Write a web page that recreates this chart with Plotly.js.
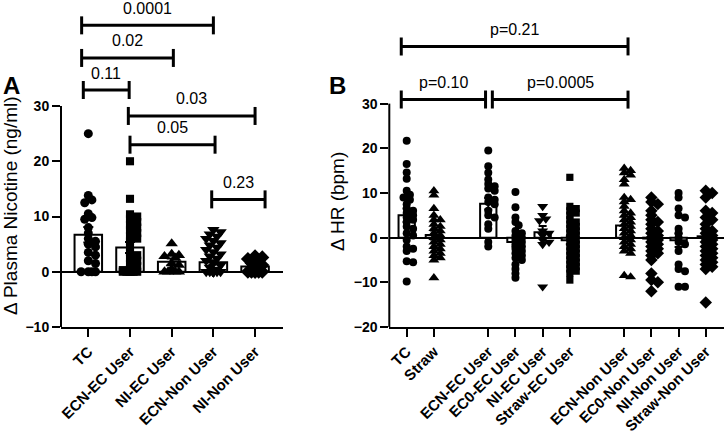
<!DOCTYPE html>
<html><head><meta charset="utf-8">
<script src="https://cdn.plot.ly/plotly-3.0.1.min.js"></script>
<style>html,body{margin:0;padding:0;background:#fff}#chart{width:725px;height:443px}</style>
</head><body><div id="chart"></div>
<script>
// ---------- Panel A data ----------
const catsA = ['TC','ECN-EC User','NI-EC User','ECN-Non User','NI-Non User'];
const nicTC     = [25, 13.8, 13, 12.5, 10.5, 9.8, 9.5, 8, 7, 6, 5.5, 5, 4.5, 3.5, 3, 2, 1.5, 0, 0, 0, 0];
const nicECNEC  = [20, 13.2, 10.4, 10, 9.5, 9, 8.5, 8, 7.5, 7, 6.5, 6, 5.5, 4.5, 3.5, 3, 2.5, 2, 1.5, 1, 0.5, 0.3, 0, 0, 0, 0, 0, 0, 0, 0, 0, 0];
const nicNIEC   = [5.1, 3.2, 3.0, 2.8, 2.5, 1.5, 1.2, 0.5, 0, 0, 0, 0];
const nicECNNon = [7.6, 7.2, 6.8, 6.4, 6, 5.6, 5.2, 4.8, 4.4, 4, 3.6, 3.2, 2.8, 2.4, 2, 1.6, 1.2, 0.8, 0.4, 0, 0, 0, 0, 0, 0, 0, 0, 0, 0, 0, 0, 0, 0, 0, 0, 0, 0, 0, 0, 0];
const nicNINon  = [2.8, 2.6, 2.3, 2.0, 1.6, 1.2, 0.6, 0, 0, 0, 0, 0, 0];
const meanA = [6.7, 4.4, 1.8, 1.7, 0.95];
const semA  = [1.4, 1.0, 0.6, 0.4, 0.3];
const sigA_p    = ['0.0001','0.02','0.11','0.03','0.05','0.23'];
const sigA_from = [-0.16, -0.16, -0.12, 0.96, 1.0, 2.96];
const sigA_to   = [3.0, 2.04, 0.98, 4.0, 3.04, 4.24];
const sigA_y    = [44.6, 38.7, 32.9, 28.2, 23.0, 13.1];

// ---------- Panel B data ----------
const groupsB = [['TC','Straw'],['ECN-EC User','EC0-EC User','NI-EC User','Straw-EC User'],['ECN-Non User','EC0-Non User','NI-Non User','Straw-Non User']];
const hrTC       = [21.7, 16.5, 14.6, 13.2, 10.5, 9.6, 9, 8.5, 7.5, 6.5, 6, 5.5, 5, 4.5, 4, 3.5, 2.5, 2, 1, 0.5, -0.5, -2, -2.5, -3, -5.3, -5.5, -9.8];
const hrStraw    = [10.5, 9.5, 6.5, 5, 4, 4, 3, 2.5, 2, 1.5, 1, 0.5, 0, -0.5, -1, -1.5, -2, -2.5, -3, -3.5, -4, -4.5, -5, -9];
const hrECNEC    = [19.5, 16, 14.5, 13, 12, 11.5, 11, 10.5, 9, 8.5, 8, 7.5, 6, 5, 4.5, 3, 2, -1, -2];
const hrEC0EC    = [10.2, 6.8, 4.5, 3.5, 2.8, 1.5, 1, 0.5, 0, -0.5, -1, -1.5, -2, -2.5, -3, -3.5, -4, -4.5, -5, -6, -7, -8, -9];
const hrNIEC     = [7, 5, 4.2, 3.8, 1.5, 1, 0.5, -0.5, -1, -1.5, -11];
const hrStrawEC  = [13.5, 7, 6.5, 6, 5.5, 5, 4, 3.5, 3, 2.5, 2, 1.5, 1, 0.5, 0, -0.5, -1, -1.5, -2, -2.5, -3, -3.5, -4, -4.5, -5, -5.5, -6, -6.5, -7, -7.5, -8, -9.5];
const hrECNNon   = [15.5, 15, 14.5, 14, 13, 12, 9, 8.5, 8, 7, 6, 5.5, 5, 4.5, 4, 3.5, 3, 2.5, 2, 1.5, 1, 0.5, 0, -0.5, -1, -1.5, -2, -2.5, -3, -3.5, -8.8, -8.5];
const hrEC0Non   = [9, 8, 7.5, 6, 5, 4, 3.5, 3, 2, 1.5, 1, 0.5, 0, -0.5, -1, -1.5, -2, -2.5, -3, -3.5, -4, -5, -8, -9.5, -10, -12];
const hrNINon    = [10, 9, 6.5, 5, 4.5, 2, 1, 0, -1, -1.5, -3, -6, -7, -7.5, -11, -11];
const hrStrawNon = [10.5, 10, 9, 6, 5.5, 4.5, 4, 3, 2, 1.5, 1, 0.5, 0, -0.5, -1, -1.5, -2, -2.5, -3, -3.5, -4, -4.5, -5, -5.5, -6, -6.5, -7, -14.5];
const meanB = [5.0, 0.6, 7.6, -1.0, 1.2, -0.6, 2.7, -0.2, -0.6, 0.3];
const semB  = [1.5, 1.0, 1.3, 1.0, 1.4, 0.9, 1.0, 0.9, 1.5, 0.9];
const sigB_p    = ['p=0.21','p=0.10','p=0.0005'];
const sigB_from = [-0.2, -0.2, 3.15];
const sigB_to   = [8.14, 2.9, 8.14];
const sigB_y    = [42.8, 30.9, 30.9];

// ---------- styling / layout ----------
const W = 725, H = 443;
const FONT = 'Liberation Sans, Arial, sans-serif';
const domA = [61, 283], domB = [389.3, 724];
const rangeXA = [-0.655, 4.67], rangeYA = [-10, 49.19];
const rangeXB = [-0.64, 11.67], rangeYB = [-20, 53.19];
const plotBottomPx = 327;

const dataA = [nicTC, nicECNEC, nicNIEC, nicECNNon, nicNINon];
const symA = ['circle','square','triangle-up','triangle-down','diamond'];
const dataB = [hrTC, hrStraw, hrECNEC, hrEC0EC, hrNIEC, hrStrawEC, hrECNNon, hrEC0Non, hrNINon, hrStrawNon];
const symB = ['circle','triangle-up','circle','circle','triangle-down','square','triangle-up','diamond','circle','diamond'];
const symScale = {'circle':1, 'square':0.9, 'triangle-up':1.2, 'triangle-down':1.2, 'diamond':1.2};

const catsB = [], posB = [];
let p = 0;
groupsB.forEach(g => { g.forEach(n => { catsB.push(n); posB.push(p); p++; }); p++; });
const posA = catsA.map((_, i) => i);

// simple beeswarm: returns x offsets in category units
function swarm(vals, pxY, pxCat, size, maxPx, overlap) {
  const placed = [];
  const idx = vals.map((v, i) => i).sort((a, b) => vals[b] - vals[a]);
  const out = new Array(vals.length);
  const dmin = size * overlap, step = size * 0.4;
  idx.forEach(i => {
    const y = vals[i] * pxY;
    let best = 0, bestScore = -1;
    for (let k = 0; k < 40; k++) {
      const c = (k === 0) ? 0 : (k % 2 ? 1 : -1) * Math.ceil(k / 2) * step;
      if (Math.abs(c) > maxPx) break;
      let md = Infinity;
      placed.forEach(q => { const d = Math.hypot(q[0] - c, q[1] - y); if (d < md) md = d; });
      if (md >= dmin) { best = c; break; }
      if (md > bestScore) { bestScore = md; best = c; }
    }
    placed.push([best, y]);
    out[i] = best / pxCat;
  });
  return out;
}

const pxYA = plotBottomPx / (rangeYA[1] - rangeYA[0]);
const pxCatA = (domA[1] - domA[0]) / (rangeXA[1] - rangeXA[0]);
const pxYB = plotBottomPx / (rangeYB[1] - rangeYB[0]);
const pxCatB = (domB[1] - domB[0]) / (rangeXB[1] - rangeXB[0]);

const traces = [];
traces.push({type:'bar', x: posA, y: meanA, width: 0.66, xaxis:'x', yaxis:'y',
  marker:{color:'#fff', line:{color:'#000', width:2}},
  error_y:{type:'data', array: semA, visible:true, color:'#000', thickness:2, width:5},
  hoverinfo:'skip', showlegend:false});
traces.push({type:'bar', x: posB, y: meanB, width: 0.6, xaxis:'x2', yaxis:'y2',
  marker:{color:'#fff', line:{color:'#000', width:2}},
  error_y:{type:'data', array: semB, visible:true, color:'#000', thickness:2, width:4},
  hoverinfo:'skip', showlegend:false});

dataA.forEach((vals, i) => {
  const off = swarm(vals, pxYA, pxCatA, 9, 10, 0.55);
  traces.push({type:'scatter', mode:'markers', xaxis:'x', yaxis:'y',
    x: vals.map((v, j) => posA[i] + off[j]), y: vals,
    marker:{symbol: symA[i], size: 9 * symScale[symA[i]], color:'#000'}, showlegend:false, cliponaxis:false});
});
dataB.forEach((vals, i) => {
  const off = swarm(vals, pxYB, pxCatB, 8, 7, 0.55);
  traces.push({type:'scatter', mode:'markers', xaxis:'x2', yaxis:'y2',
    x: vals.map((v, j) => posB[i] + off[j]), y: vals,
    marker:{symbol: symB[i], size: 8 * symScale[symB[i]], color:'#000'}, showlegend:false, cliponaxis:false});
});

const shapes = [], annotations = [];
function addBrackets(ps, from, to, ys, xr, yr) {
  ps.forEach((t, i) => {
    shapes.push({type:'line', xref: xr, yref: yr, x0: from[i], x1: to[i], y0: ys[i], y1: ys[i], line:{color:'#000', width:3}});
    [from[i], to[i]].forEach(xx => shapes.push({type:'line', xref: xr, yref: yr, ysizemode:'pixel', yanchor: ys[i],
      x0: xx, x1: xx, y0: -9, y1: 9, line:{color:'#000', width:3}}));
    annotations.push({xref: xr, yref: yr, x: (from[i] + to[i]) / 2, y: ys[i], yshift: 17, text: t, showarrow:false,
      xanchor:'center', yanchor:'middle', font:{family: FONT, size: 16, color:'#000'}});
  });
}
addBrackets(sigA_p, sigA_from, sigA_to, sigA_y, 'x', 'y');
addBrackets(sigB_p, sigB_from, sigB_to, sigB_y, 'x2', 'y2');

shapes.push({type:'line', xref:'x domain', yref:'y', x0:0, x1:0, y0:-10, y1:30, line:{color:'#000', width:2}});
shapes.push({type:'line', xref:'x2 domain', yref:'y2', x0:0, x1:0, y0:-20, y1:30, line:{color:'#000', width:2}});

function paperText(x, y, text, size, bold, angle) {
  const a = {xref:'paper', yref:'paper', x: x / W, y: 1 - y / H, text: text, showarrow:false,
    xanchor:'center', yanchor:'middle', font:{family: FONT, size: size, color:'#000'}};
  if (bold) a.font.weight = 'bold';
  if (angle) a.textangle = angle;
  return a;
}
annotations.push(paperText(11, 206, 'Δ Plasma Nicotine (ng/ml)', 19, false, -90));
annotations.push(paperText(337, 202, 'Δ HR (bpm)', 19, false, -90));
annotations.push(paperText(11, 85, 'A', 24, true));
annotations.push(paperText(337, 85, 'B', 24, true));

const tickFont = {family: FONT, size: 14, color:'#000', weight:'bold'};
const catFont = {family: FONT, size: 15, color:'#000', weight:'bold'};
function xAx(dom, range, vals, text, anchor) {
  return {domain:[dom[0] / W, dom[1] / W], range: range, tickmode:'array', tickvals: vals, ticktext: text, anchor: anchor,
    tickangle:-45, ticks:'outside', ticklen:8, tickwidth:2, tickcolor:'#000', showline:true, linewidth:2, linecolor:'#000',
    showgrid:false, zeroline:false, tickfont: catFont, fixedrange:true};
}
function yAx(range, vals, anchor) {
  return {domain:[1 - plotBottomPx / H, 1], range: range, tickmode:'array', tickvals: vals, anchor: anchor,
    ticks:'outside', ticklen:8, tickwidth:2, tickcolor:'#000', showline:false, showgrid:false,
    zeroline:true, zerolinewidth:2, zerolinecolor:'#000', tickfont: tickFont, fixedrange:true};
}

const layout = {
  width: W, height: H, margin:{l:0, r:0, t:0, b:0}, paper_bgcolor:'#fff', plot_bgcolor:'rgba(0,0,0,0)',
  barmode:'overlay', showlegend:false, font:{family: FONT, color:'#000'},
  xaxis: xAx(domA, rangeXA, posA, catsA, 'y'),
  yaxis: yAx(rangeYA, [-10, 0, 10, 20, 30], 'x'),
  xaxis2: xAx(domB, rangeXB, posB, catsB, 'y2'),
  yaxis2: yAx(rangeYB, [-20, -10, 0, 10, 20, 30], 'x2'),
  shapes: shapes, annotations: annotations
};

Plotly.newPlot('chart', traces, layout, {staticPlot:true, displayModeBar:false});
</script></body></html>
